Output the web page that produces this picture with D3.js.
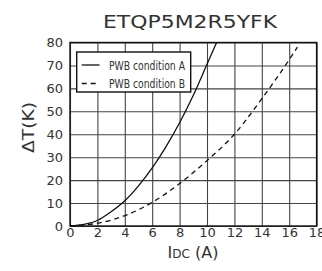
<!DOCTYPE html>
<html>
<head>
<meta charset="utf-8">
<script src="https://cdn.jsdelivr.net/npm/d3@7"></script>
<style>
body{margin:0;background:#fff;}
svg text{font-family:"DejaVu Sans",sans-serif;fill:#333;}
</style>
</head>
<body>
<svg></svg>
<script>
var title = 'ETQP5M2R5YFK';
var xTicks = [0,2,4,6,8,10,12,14,16,18];
var yTicks = [0,10,20,30,40,50,60,70,80];
var currentA = [0,1,2,3,4,5,6,7,8,9,10,10.7];
var tempA = [0,0.7,2.4,6.2,11,17.5,25.3,34.5,45,57,70.5,80];
var currentB = [0,2,4,6,8,10,12,14,16,16.6];
var tempB = [0,1.2,4.5,10.3,18.5,28.5,40,55.5,72.5,78];
var seriesNames = ['PWB condition A','PWB condition B'];

var width = 322, height = 271;
var svg = d3.select('svg').attr('width',width).attr('height',height);

var x = d3.scaleLinear().domain([0,18]).range([70,316.6]);
var y = d3.scaleLinear().domain([0,80]).range([226,42.5]);

// axes with grid lines
var gx = svg.append('g').attr('transform','translate(0,'+y(0)+')')
    .call(d3.axisBottom(x).tickValues(xTicks).tickSize(-(y(0)-y(80))).tickPadding(2));
var gy = svg.append('g').attr('transform','translate('+x(0)+',0)')
    .call(d3.axisLeft(y).tickValues(yTicks).tickSize(-(x(18)-x(0))).tickPadding(7));
[gx,gy].forEach(function(g){
    g.select('.domain').remove();
    g.selectAll('line').attr('stroke','#444').attr('stroke-width',1.1);
    g.selectAll('text').attr('fill','#333').style('font-size','13px')
        .style('font-family','"DejaVu Sans",sans-serif');
});
svg.append('rect').attr('x',x(0)).attr('y',y(80))
    .attr('width',x(18)-x(0)).attr('height',y(0)-y(80))
    .attr('fill','none').attr('stroke','#111').attr('stroke-width',1.4);

// title
svg.append('text').attr('x',190).attr('y',28).attr('text-anchor','middle')
    .style('font-size','18px').attr('textLength',174).attr('lengthAdjust','spacingAndGlyphs')
    .text(title);

// axis titles
var xl = svg.append('text').attr('x',193).attr('y',258).attr('text-anchor','middle').style('font-size','16px');
xl.append('tspan').text('I');
xl.append('tspan').style('font-size','12px').text('DC');
xl.append('tspan').text(' (A)');
svg.append('text').attr('transform','translate(34,127.5) rotate(-90)').attr('text-anchor','middle')
    .style('font-size','16px').attr('textLength',51).attr('lengthAdjust','spacingAndGlyphs')
    .text('\u0394T(K)');

// curves
var line = d3.line().x(d=>x(d[0])).y(d=>y(d[1])).curve(d3.curveMonotoneX);
svg.append('path').datum(d3.zip(currentA,tempA)).attr('d',line)
    .attr('fill','none').attr('stroke','#111').attr('stroke-width',1.3);
svg.append('path').datum(d3.zip(currentB,tempB)).attr('d',line)
    .attr('fill','none').attr('stroke','#111').attr('stroke-width',1.3).attr('stroke-dasharray','5,4');

// legend
var lg = svg.append('g');
lg.append('rect').attr('x',76.7).attr('y',52).attr('width',114).attr('height',40)
    .attr('fill','#fff').attr('stroke','#111').attr('stroke-width',1.4);
seriesNames.forEach(function(n,i){
    var cy = 65 + i*18.5;
    lg.append('line').attr('x1',81.7).attr('x2',99.5).attr('y1',cy).attr('y2',cy)
        .attr('stroke','#111').attr('stroke-width',1.3).attr('stroke-dasharray',i?'5,4':null);
    lg.append('text').attr('x',109).attr('y',cy+4.5).style('font-size','13px')
        .attr('textLength',76).attr('lengthAdjust','spacingAndGlyphs').text(n);
});
</script>
</body>
</html>
